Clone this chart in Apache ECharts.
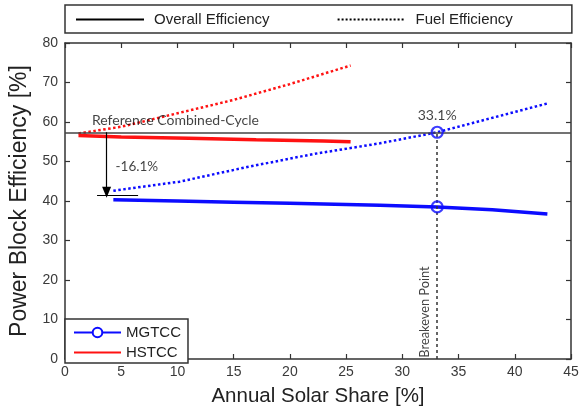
<!DOCTYPE html>
<html><head><meta charset="utf-8">
<script src="https://cdn.jsdelivr.net/npm/echarts@6/dist/echarts.min.js"></script>
<style>html,body{margin:0;padding:0;background:#fff}#c{width:588px;height:412px}</style>
</head><body><div id="c"></div>
<script>
// Data
const mgtccOverallShare = [4.3, 10, 15, 20, 25, 28, 33.1, 38, 42.9];
const mgtccOverall      = [40.3, 40.0, 39.7, 39.4, 39.1, 38.9, 38.5, 37.8, 36.7];
const mgtccFuelShare    = [4.3, 10.2, 16.2, 22.1, 28, 33.1, 37.8, 42.9];
const mgtccFuel         = [42.6, 44.9, 48.6, 51.9, 54.6, 57.4, 60.9, 64.7];
const hstccOverallShare = [1.2, 5, 11, 17, 23, 25.4];
const hstccOverall      = [56.6, 56.2, 55.9, 55.5, 55.2, 55.0];
const hstccFuelShare    = [1.2, 5, 10, 15, 20, 25.4];
const hstccFuel         = [57.1, 58.8, 62.2, 65.6, 69.6, 74.3];
const referenceEff = 57.4;
const breakevenShare = 33.1;
const breakevenPoints = [[33.1, 57.4], [33.1, 38.5]];
const dropArrow = {x: 3.7, from: 57.4, to: 42.2};
const dropBar = {x0: 2.85, x1: 6.5, y: 41.4};
const annotations = [
  {pos: [2.4, 60.4], text: 'Reference Combined-Cycle', align: 'left', rotate: 0, size: 14},
  {pos: [4.5, 48.7], text: '-16.1%', align: 'left', rotate: 0, size: 13.5},
  {pos: [33.1, 61.6], text: '33.1%', align: 'center', rotate: 0, size: 14},
  {pos: [32.0, 11.9], text: 'Breakeven Point', align: 'center', rotate: 90, size: 12.8}
];
const xTicks = {min: 0, max: 45, interval: 5};
const yTicks = {min: 0, max: 80, interval: 10};

const zip = (a, b) => a.map((v, i) => [v, b[i]]);
const BLUE = '#0c0cff', RED = '#ff1212', AX = '#333';
const SANS = 'Liberation Sans, Arial, sans-serif';
const tickFont = {fontFamily: SANS, fontSize: 14, color: '#3a3a3a'};
const annFont = 'Lato, Open Sans, sans-serif';

const chart = echarts.init(document.getElementById('c'), null, {renderer: 'canvas'});
const axisCommon = {
  axisLine: {show: true, onZero: false, lineStyle: {color: AX, width: 1.5}},
  axisTick: {show: true, inside: true, length: 5, lineStyle: {color: AX, width: 1.2}},
  splitLine: {show: false}
};
const hiddenSymbol = {opacity: 0};
chart.setOption({
  animation: false,
  grid: {left: 65, right: 17, top: 43, bottom: 50, containLabel: false},
  legend: [
    {
      data: [{name: 'Overall Efficiency', itemStyle: hiddenSymbol}, {name: 'Fuel Efficiency', itemStyle: hiddenSymbol}],
      left: 65, top: 5, orient: 'horizontal',
      padding: [7, 59, 6, 10], itemGap: 67, itemWidth: 68, itemHeight: 14,
      borderColor: AX, borderWidth: 1.5, backgroundColor: '#fff',
      textStyle: {fontFamily: SANS, fontSize: 15, color: '#222', padding: [0, 0, 0, 5]},
      selectedMode: false
    },
    {
      data: [{name: 'MGTCC'}, {name: 'HSTCC', itemStyle: hiddenSymbol}],
      left: 65, top: 319, orient: 'vertical',
      padding: [6, 7, 3, 8], itemGap: 5, itemWidth: 47, itemHeight: 12,
      borderColor: AX, borderWidth: 1.5, backgroundColor: '#fff',
      textStyle: {fontFamily: SANS, fontSize: 15, color: '#222'},
      selectedMode: false
    }
  ],
  xAxis: [
    Object.assign({type: 'value', position: 'bottom', min: xTicks.min, max: xTicks.max, interval: xTicks.interval,
      name: 'Annual Solar Share [%]', nameLocation: 'middle', nameGap: 27,
      nameTextStyle: {fontFamily: SANS, fontSize: 20.5, color: '#222'},
      axisLabel: Object.assign({margin: 6}, tickFont)}, axisCommon),
    Object.assign({type: 'value', position: 'top', min: xTicks.min, max: xTicks.max, interval: xTicks.interval,
      axisLabel: {show: false}}, axisCommon)
  ],
  yAxis: [
    Object.assign({type: 'value', position: 'left', min: yTicks.min, max: yTicks.max, interval: yTicks.interval,
      name: 'Power Block Efficiency [%]', nameLocation: 'middle', nameGap: 22, nameRotate: 90,
      nameTextStyle: {fontFamily: SANS, fontSize: 23, color: '#222'},
      axisLabel: Object.assign({margin: 7}, tickFont)}, axisCommon),
    Object.assign({type: 'value', position: 'right', min: yTicks.min, max: yTicks.max, interval: yTicks.interval,
      axisLabel: {show: false}}, axisCommon)
  ],
  series: [
    {name: 'Overall Efficiency', type: 'line', data: [], symbol: 'none', color: '#000',
      lineStyle: {color: '#000', width: 2.5, type: 'solid'}},
    {name: 'Fuel Efficiency', type: 'line', data: [], symbol: 'none', color: '#000',
      lineStyle: {color: '#000', width: 2.5, type: 'dotted'}},
    {name: 'HSTCC', type: 'line', data: zip(hstccOverallShare, hstccOverall), symbol: 'none', color: RED,
      lineStyle: {color: RED, width: 3.5}, z: 3},
    {name: 'HSTCC fuel', type: 'line', data: zip(hstccFuelShare, hstccFuel), symbol: 'none', color: RED,
      lineStyle: {color: RED, width: 2.5, type: 'dotted'}, z: 3},
    {name: 'MGTCC', type: 'line', data: zip(mgtccOverallShare, mgtccOverall), symbol: 'emptyCircle', symbolSize: 10,
      showSymbol: false, color: BLUE, itemStyle: {color: BLUE, borderWidth: 2}, lineStyle: {color: BLUE, width: 3.5}, z: 3},
    {name: 'MGTCC fuel', type: 'line', data: zip(mgtccFuelShare, mgtccFuel), symbol: 'none', color: BLUE,
      lineStyle: {color: BLUE, width: 2.5, type: 'dotted'}, z: 3},
    {name: 'guides', type: 'line', data: [], symbol: 'none', z: 2,
      markLine: {
        silent: true, symbol: 'none', label: {show: false}, animation: false,
        data: [
          {yAxis: referenceEff, lineStyle: {color: '#444', width: 1.5, type: 'solid'}},
          [{coord: [breakevenShare, 0], lineStyle: {color: '#333', width: 1.5, type: [3, 3]}}, {coord: [breakevenShare, referenceEff]}],
          [{coord: [dropBar.x0, dropBar.y], lineStyle: {color: '#000', width: 1.2, type: 'solid'}}, {coord: [dropBar.x1, dropBar.y]}],
          [{coord: [dropArrow.x, dropArrow.from], symbol: 'none', lineStyle: {color: '#000', width: 1.2, type: 'solid'}},
           {coord: [dropArrow.x, dropArrow.to], symbol: 'triangle', symbolSize: [9, 11]}]
        ]
      }},
    {name: 'breakeven', type: 'scatter', data: breakevenPoints, symbol: 'circle', symbolSize: 11,
      itemStyle: {color: 'rgba(255,255,255,0)', borderColor: BLUE, borderWidth: 2.2}, z: 5},
    {name: 'annotations', type: 'scatter', symbolSize: 0, z: 6, silent: true,
      data: annotations.map(a => ({value: a.pos,
        label: {show: true, position: 'inside', formatter: a.text, rotate: a.rotate, align: a.align,
          verticalAlign: 'middle', fontFamily: annFont, fontSize: a.size, color: '#111'}}))}
  ]
});
</script></body></html>
